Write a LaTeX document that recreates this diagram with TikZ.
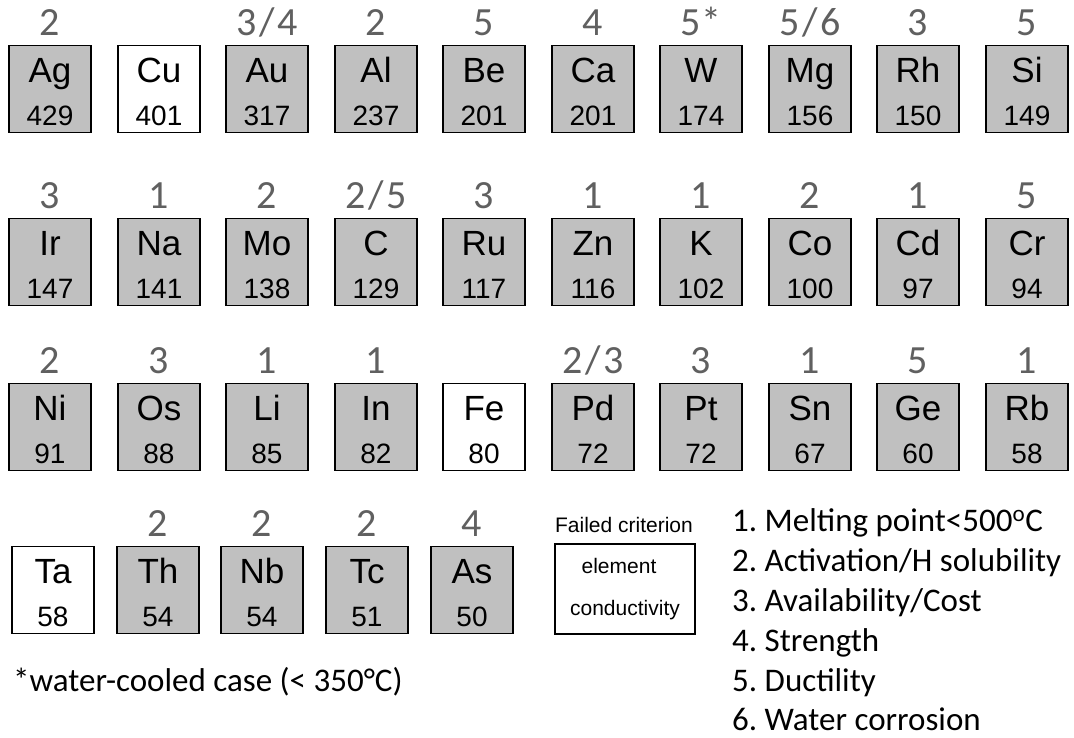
\documentclass[tikz,border=0pt]{standalone}
\usepackage{fontspec}
\setmainfont{Liberation Sans}
\newfontfamily\calfont{Carlito}
\definecolor{elgray}{HTML}{C0C0C0}
\definecolor{critgray}{HTML}{606060}
\newcommand{\either}[2]{#1\kern2.5pt/\kern2.5pt#2}

\begin{document}
\frenchspacing
\begin{tikzpicture}[x=1pt,y=-1pt,
		elbox/.style={rectangle,draw,line width=1.6pt,minimum width=82pt,minimum height=87pt,inner sep=0pt},
		elsym/.style={anchor=base,inner sep=0pt,font=\fontsize{35}{38}\selectfont},
		elnum/.style={anchor=base,inner sep=0pt,font=\fontsize{28}{30}\selectfont},
		crit/.style={anchor=base,inner sep=0pt,text=critgray,font=\calfont\fontsize{40}{42}\selectfont},
		keytext/.style={anchor=base,inner sep=0pt,font=\fontsize{21}{24}\selectfont},
		listtext/.style={anchor=base west,inner sep=0pt,font=\calfont\fontsize{33}{36}\selectfont}]
		\useasboundingbox (0,0) rectangle (1074,737);

		% name/x/y/conductivity/fill/criterion
		\foreach \el/\x/\y/\cond/\col/\cr in {
			Ag/50/89/429/elgray/2, Cu/159/89/401/white/, Au/267/89/317/elgray/{\either34},
			Al/376/89/237/elgray/2, Be/484/89/201/elgray/5, Ca/593/89/201/elgray/4,
			W/701/89/174/elgray/5*, Mg/810/89/156/elgray/{\either56}, Rh/918/89/150/elgray/3,
			Si/1027/89/149/elgray/5,
			Ir/50/262/147/elgray/3, Na/159/262/141/elgray/1, Mo/267/262/138/elgray/2,
			C/376/262/129/elgray/{\either25}, Ru/484/262/117/elgray/3, Zn/593/262/116/elgray/1,
			K/701/262/102/elgray/1, Co/810/262/100/elgray/2, Cd/918/262/97/elgray/1,
			Cr/1027/262/94/elgray/5,
			Ni/50/427/91/elgray/2, Os/159/427/88/elgray/3, Li/267/427/85/elgray/1,
			In/376/427/82/elgray/1, Fe/484/427/80/white/, Pd/593/427/72/elgray/{\either23},
			Pt/701/427/72/elgray/3, Sn/810/427/67/elgray/1, Ge/918/427/60/elgray/5,
			Rb/1027/427/58/elgray/1,
			Ta/53/590/58/white/, Th/158/590/54/elgray/2, Nb/262/590/54/elgray/2,
			Tc/367/590/51/elgray/2, As/472/590/50/elgray/4}
		{
			\node[elbox,fill=\col] (\el) at (\x,\y) {};
			\node[elsym] (\el-sym) at ([yshift=-38pt]\el.north) {\el};
			\node[elnum] (\el-num) at ([yshift=8pt]\el.south) {\cond};
			\node[crit] (\el-crit) at ([yshift=9pt]\el.north) {\cr};
		}

		% key box
		\node[elbox,minimum width=140pt,minimum height=90pt] (key) at (625,589) {};
		\node[keytext] (key-title) at (624,532) {Failed criterion};
		\node[keytext] (key-el) at (619,573) {element};
		\node[keytext] (key-cond) at (625,615) {conductivity};

		% criteria
		\node[listtext] (c1) at (732,531) {1. Melting point<500\textsuperscript{o}C};
		\node[listtext] (c2) at (732,571) {2. Activation/H solubility};
		\node[listtext] (c3) at (732,611) {3. Availability/Cost};
		\node[listtext] (c4) at (732,651) {4. Strength};
		\node[listtext] (c5) at (732,691) {5. Ductility};
		\node[listtext] (c6) at (732,730) {6. Water corrosion};

		\node[listtext] (note) at (13,691) {*water-cooled case (< 350°C)};
\end{tikzpicture}
\end{document}
